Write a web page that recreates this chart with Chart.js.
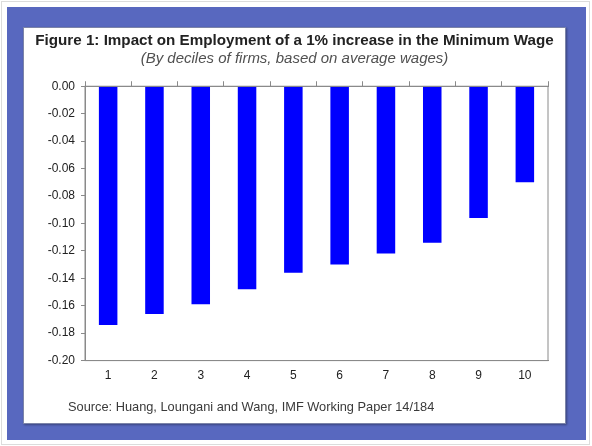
<!DOCTYPE html>
<html>
<head>
<meta charset="utf-8">
<script src="https://cdn.jsdelivr.net/npm/chart.js@4"></script>
<style>
    body { margin: 0; background: #fff; font-family: Arial, "Liberation Sans", sans-serif; }
    .outer { position: absolute; left: 1px; top: 1px; width: 587px; height: 442px; border: 1px solid #dcdcdc; }
    .frame { position: absolute; left: 7px; top: 7px; width: 579px; height: 433px; background: #5868bf; }
    .panel { position: absolute; left: 23px; top: 27px; width: 541px; height: 395px; background: #fff;
             border: 1px solid #7c84a8; box-shadow: 1px 1px 2px rgba(0,0,0,0.35); }
    .chart-box { position: absolute; left: 23px; top: 27px; width: 543px; height: 397px; }
    .source { position: absolute; left: 68px; top: 399px; font-size: 12.8px; color: #3a3a3a; white-space: nowrap; }
</style>
</head>
<body>
<div class="outer"></div>
<div class="frame"></div>
<div class="panel"></div>
<div class="chart-box"><canvas id="wageChart"></canvas></div>
<div class="source">Source: Huang, Loungani and Wang, IMF Working Paper 14/184</div>

<script>
// 数据
const deciles = ['1', '2', '3', '4', '5', '6', '7', '8', '9', '10'];
const employmentImpact = [-0.174, -0.166, -0.159, -0.148, -0.136, -0.130, -0.122, -0.114, -0.096, -0.070];
const yTicks = [0, -0.02, -0.04, -0.06, -0.08, -0.10, -0.12, -0.14, -0.16, -0.18, -0.20];

const axisGray = '#8a8a8a';
const textColor = '#222';
const fontFamily = 'Arial, "Liberation Sans", sans-serif';

// 绘图区外框（右侧边线）
const plotFrame = {
    id: 'plotFrame',
    afterDatasetsDraw(chart) {
        const a = chart.chartArea;
        const ctx = chart.ctx;
        ctx.save();
        ctx.strokeStyle = axisGray;
        ctx.lineWidth = 1;
        ctx.strokeRect(a.left, a.top, a.right - a.left, a.bottom - a.top);
        ctx.restore();
    }
};

document.addEventListener('DOMContentLoaded', function() {
    const ctx = document.getElementById('wageChart');

    new Chart(ctx, {
        type: 'bar',
        data: {
            labels: deciles,
            datasets: [{
                label: 'Impact on employment',
                data: employmentImpact,
                backgroundColor: '#0000ff',
                borderWidth: 0,
                barPercentage: 0.4,
                categoryPercentage: 1.0,
                xAxisID: 'x',
                yAxisID: 'y'
            }]
        },
        options: {
            responsive: true,
            maintainAspectRatio: false,
            animation: false,
            layout: {
                padding: { left: 0, right: 0, top: 0, bottom: 33 }
            },
            plugins: {
                legend: { display: false },
                tooltip: { enabled: false },
                title: {
                    display: true,
                    text: 'Figure 1: Impact on Employment of a 1% increase in the Minimum Wage',
                    color: textColor,
                    font: { family: fontFamily, size: 15.2, weight: 'bold' },
                    padding: { top: 5, bottom: 0 }
                },
                subtitle: {
                    display: true,
                    text: '(By deciles of firms, based on average wages)',
                    color: '#505050',
                    font: { family: fontFamily, size: 15, style: 'italic' },
                    padding: { top: 0, bottom: 13 }
                }
            },
            scales: {
                x: {
                    position: 'bottom',
                    offset: true,
                    grid: { display: false, drawTicks: false },
                    border: { display: true, color: axisGray },
                    ticks: {
                        color: textColor,
                        padding: 8,
                        font: { family: fontFamily, size: 12 }
                    }
                },
                x2: {
                    type: 'category',
                    labels: deciles,
                    position: 'top',
                    offset: true,
                    grid: { offset: true, drawOnChartArea: false, drawTicks: true, tickLength: 5, color: axisGray },
                    border: { display: true, color: axisGray },
                    ticks: { display: false }
                },
                y: {
                    min: -0.20,
                    max: 0,
                    afterBuildTicks: function(scale) {
                        scale.ticks = yTicks.map(v => ({ value: v }));
                    },
                    afterFit: function(scale) {
                        scale.width = 62;
                    },
                    grid: { drawOnChartArea: false, drawTicks: true, tickLength: 4, color: axisGray },
                    border: { display: true, color: axisGray },
                    ticks: {
                        color: textColor,
                        padding: 6,
                        font: { family: fontFamily, size: 12 },
                        callback: function(value) {
                            return Math.abs(value) < 1e-9 ? '0.00' : value.toFixed(2);
                        }
                    }
                },
                // 右侧留白
                yRight: {
                    position: 'right',
                    min: -0.20,
                    max: 0,
                    grid: { display: false },
                    border: { display: false },
                    ticks: { display: false },
                    afterFit: function(scale) {
                        scale.width = 18;
                    }
                }
            }
        },
        plugins: [plotFrame]
    });
});
</script>
</body>
</html>
